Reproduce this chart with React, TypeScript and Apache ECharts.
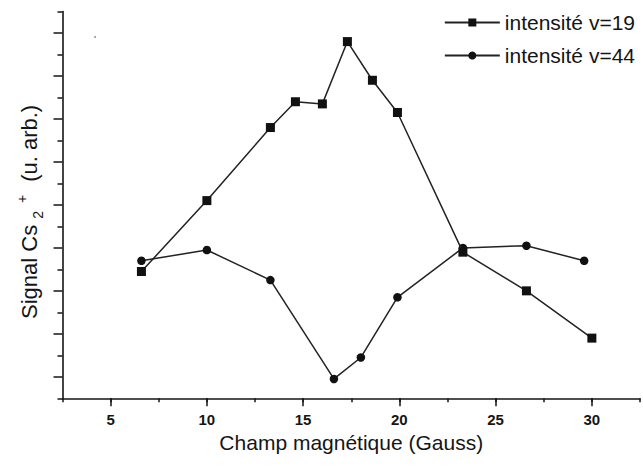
import React, { useEffect, useRef } from 'react';
import * as echarts from 'echarts';

// Champ magnétique (Gauss) / signal (u. arb.)
const x19 = [6.6, 10.0, 13.3, 14.6, 16.0, 17.3, 18.6, 19.9, 23.3, 26.6, 30.0];
const y19 = [5.9, 9.2, 12.6, 13.8, 13.7, 16.6, 14.8, 13.3, 6.8, 5.0, 2.8];
const x44 = [6.6, 10.0, 13.3, 16.6, 18.0, 19.9, 23.3, 26.6, 29.6];
const y44 = [6.4, 6.9, 5.5, 0.9, 1.9, 4.7, 7.0, 7.1, 6.4];
const xLabelValues = [5, 10, 15, 20, 25, 30];
const seriesNames = ['intensité v=19', 'intensité v=44'];

const FONT = "'Liberation Sans', Arial, Helvetica, sans-serif";
const INK = '#151515';

export default function App() {
  const ref = useRef<HTMLDivElement>(null);
  useEffect(() => {
    document.body.style.margin = '0';
    const chart = echarts.init(ref.current!, null, { renderer: 'svg' });
    chart.setOption({
      animation: false,
      backgroundColor: '#ffffff',
      textStyle: { fontFamily: FONT, color: INK },
      grid: { left: 62.5, right: -5, top: 11.5, bottom: 69.7, containLabel: false },
      legend: {
        data: seriesNames,
        orient: 'vertical',
        right: 3,
        top: 7,
        itemWidth: 55,
        itemHeight: 10,
        itemGap: 12,
        textStyle: { fontFamily: FONT, fontSize: 21, color: INK },
      },
      xAxis: [
        {
          type: 'value',
          min: 2.5,
          max: 32.5,
          interval: 2.5,
          position: 'bottom',
          axisLine: { show: true, lineStyle: { color: INK, width: 1.6 } },
          axisTick: { show: true, length: 4, lineStyle: { color: INK, width: 1.5 } },
          axisLabel: {
            show: true,
            margin: 14,
            fontFamily: FONT,
            fontSize: 15,
            fontWeight: 'bold',
            color: INK,
            formatter: (v: number) => (xLabelValues.includes(v) ? String(v) : ''),
          },
          splitLine: { show: false },
          name: 'Champ magnétique (Gauss)',
          nameLocation: 'middle',
          nameGap: 31,
          nameTextStyle: { fontFamily: FONT, fontSize: 21, color: INK },
        },
        {
          type: 'value',
          min: 2.5,
          max: 32.5,
          interval: 2.5,
          position: 'bottom',
          offset: 0,
          axisLine: { show: false },
          axisTick: { show: true, length: 8, customValues: xLabelValues, lineStyle: { color: INK, width: 1.5 } },
          axisLabel: { show: false },
          splitLine: { show: false },
        },
      ],
      yAxis: {
        type: 'value',
        min: 0,
        max: 18,
        interval: 2,
        axisLine: { show: true, lineStyle: { color: INK, width: 1.6 } },
        axisTick: { show: true, length: 5, lineStyle: { color: INK, width: 1.5 } },
        minorTick: { show: true, splitNumber: 2, length: 9, lineStyle: { color: INK, width: 1.5 } },
        axisLabel: { show: false },
        splitLine: { show: false },
        name: '{a|Signal Cs}{b|2}{c|+}{a|(u. arb.)}',
        nameLocation: 'middle',
        nameGap: 18,
        nameTextStyle: {
          fontFamily: FONT,
          color: INK,
          padding: [0, 14, 0, 0],
          rich: {
            a: { fontFamily: FONT, fontSize: 22, color: INK, lineHeight: 30, verticalAlign: 'middle' },
            b: { fontFamily: FONT, fontSize: 14, color: INK, lineHeight: 14, verticalAlign: 'bottom', padding: [0, 8, 0, 6] },
            c: { fontFamily: FONT, fontSize: 14, color: INK, lineHeight: 14, verticalAlign: 'top', padding: [0, 13, 0, 0] },
          },
        },
      },
      graphic: [
        { type: 'circle', shape: { cx: 95, cy: 37, r: 1 }, style: { fill: '#9a9a9a' }, silent: true },
      ],
      series: [
        {
          type: 'line',
          name: seriesNames[0],
          xAxisIndex: 0,
          data: x19.map((x, i) => [x, y19[i]]),
          symbol: 'rect',
          symbolSize: 9,
          showAllSymbol: true,
          lineStyle: { color: '#222', width: 1.5 },
          itemStyle: { color: '#111', borderWidth: 0 },
          z: 3,
        },
        {
          type: 'line',
          name: seriesNames[1],
          xAxisIndex: 0,
          data: x44.map((x, i) => [x, y44[i]]),
          symbol: 'circle',
          symbolSize: 8.5,
          showAllSymbol: true,
          lineStyle: { color: '#222', width: 1.5 },
          itemStyle: { color: '#111', borderWidth: 0 },
          z: 2,
        },
      ],
    });
    return () => chart.dispose();
  }, []);
  return <div ref={ref} style={{ width: 643, height: 468 }} />;
}
